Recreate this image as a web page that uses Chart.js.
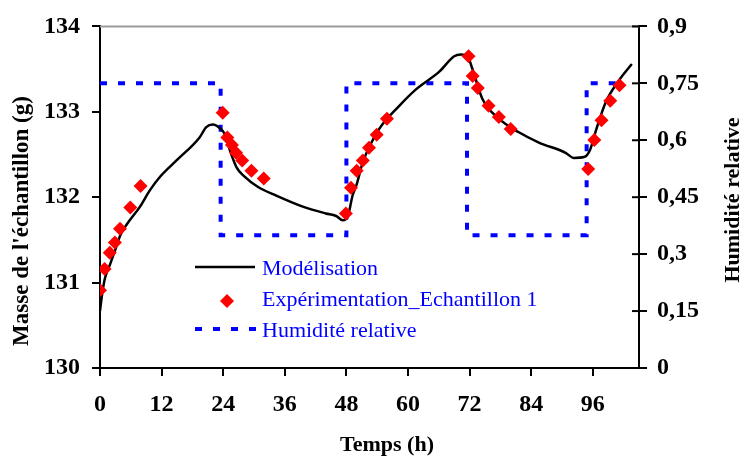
<!DOCTYPE html>
<html>
<head>
<meta charset="utf-8">
<script src="https://cdn.jsdelivr.net/npm/chart.js@4/dist/chart.umd.min.js"></script>
<style>
html,body{margin:0;padding:0;background:#fff;}
#wrap{width:745px;height:458px;position:relative;}
</style>
</head>
<body>
<div id="wrap"><canvas id="c" width="745" height="458"></canvas></div>
<script>
// ---- data ----
const modelHours = [0, 0.5, 1, 2, 3, 4, 5.2, 7.8, 9.7, 11.7, 14.9, 19.4, 20.7, 22, 23.3, 24.3, 25.3, 26.6, 28, 30.8, 34.3, 39.5, 44, 46, 47.3, 48.3, 49.2, 50, 51.2, 54.4, 58.3, 61.5, 66.1, 69, 70.3, 71.6, 72.5, 74.5, 77.7, 81.6, 85.5, 90.7, 92.3, 94.3, 95.5, 96.5, 98.5, 101, 103.6];
const modelMass = [130.67, 130.9, 131.06, 131.22, 131.39, 131.56, 131.68, 131.89, 132.08, 132.24, 132.43, 132.70, 132.82, 132.85, 132.81, 132.74, 132.55, 132.35, 132.25, 132.12, 132.02, 131.89, 131.81, 131.78, 131.73, 131.78, 132.02, 132.15, 132.41, 132.80, 133.07, 133.26, 133.47, 133.65, 133.67, 133.65, 133.51, 133.15, 132.92, 132.76, 132.64, 132.52, 132.46, 132.47, 132.56, 132.76, 133.11, 133.36, 133.56];

const expHours = [0, 0.9, 1.9, 2.9, 3.9, 5.9, 7.9, 23.9, 24.8, 25.7, 26.5, 27.7, 29.5, 31.9, 47.9, 48.9, 50.0, 51.2, 52.4, 53.9, 55.9, 71.8, 72.6, 73.6, 75.7, 77.7, 80.0, 95.1, 96.3, 97.7, 99.4, 101.2];
const expMass = [130.91, 131.16, 131.35, 131.47, 131.63, 131.88, 132.13, 132.99, 132.70, 132.61, 132.52, 132.43, 132.31, 132.22, 131.81, 132.11, 132.31, 132.43, 132.58, 132.73, 132.92, 133.65, 133.42, 133.28, 133.07, 132.94, 132.80, 132.33, 132.67, 132.90, 133.13, 133.31];

const rhHours = [0, 23.5, 23.5, 48, 48, 71.5, 71.5, 94.8, 94.8, 102];
const rhValues = [0.75, 0.75, 0.35, 0.35, 0.75, 0.75, 0.35, 0.35, 0.75, 0.75];

const xTickValues = [0, 12, 24, 36, 48, 60, 72, 84, 96];
const massTickValues = [130, 131, 132, 133, 134];
const rhTickValues = [0, 0.15, 0.3, 0.45, 0.6, 0.75, 0.9];

const seriesNames = ['Modélisation', 'Expérimentation_Echantillon 1', 'Humidité relative'];
const axisTitles = { x: 'Temps (h)', y: "Masse de l'échantillon (g)", y2: 'Humidité relative' };

// ---- build ----
const zip = (xs, ys) => xs.map((x, i) => ({ x: x, y: ys[i] }));
const SERIF = "'Liberation Serif', 'Times New Roman', serif";
const tickFont = { family: SERIF, size: 24, weight: 'bold' };

function keepTicks(values) {
  return function (scale) {
    scale.ticks = values.map(v => ({ value: v }));
  };
}

const decor = {
  id: 'decor',
  beforeDatasetsDraw(chart) {
    const ctx = chart.ctx, a = chart.chartArea;
    ctx.save();
    ctx.strokeStyle = '#9a9a9a';
    ctx.lineWidth = 2;
    ctx.beginPath();
    ctx.moveTo(a.left, a.top);
    ctx.lineTo(a.right, a.top);
    ctx.stroke();
    // inner part of the crossing ticks on the right axis
    const s = chart.scales.y2;
    ctx.strokeStyle = '#000';
    ctx.lineWidth = 2;
    s.ticks.forEach(t => {
      const py = s.getPixelForValue(t.value);
      ctx.beginPath();
      ctx.moveTo(a.right - 7, py);
      ctx.lineTo(a.right, py);
      ctx.stroke();
    });
    ctx.restore();
  },
  afterDraw(chart) {
    const ctx = chart.ctx;
    ctx.save();
    // axis titles
    ctx.fillStyle = '#000';
    ctx.textAlign = 'center';
    ctx.textBaseline = 'middle';
    ctx.font = 'bold 22px ' + SERIF;
    ctx.fillText(axisTitles.x, 387, 445);
    ctx.save();
    ctx.font = 'bold 23px ' + SERIF;
    ctx.translate(22, 221);
    ctx.rotate(-Math.PI / 2);
    ctx.fillText(axisTitles.y, 0, 0);
    ctx.restore();
    ctx.save();
    ctx.translate(733, 200);
    ctx.rotate(-Math.PI / 2);
    ctx.fillText(axisTitles.y2, 0, 0);
    ctx.restore();

    // legend
    ctx.textAlign = 'left';
    ctx.textBaseline = 'alphabetic';
    ctx.font = '22px ' + SERIF;
    ctx.fillStyle = '#0000FF';
    const tx = 262;
    ctx.fillText(seriesNames[0], tx, 275);
    ctx.fillText(seriesNames[1], tx, 306);
    ctx.fillText(seriesNames[2], tx, 337);
    // samples
    ctx.strokeStyle = '#000';
    ctx.lineWidth = 2.5;
    ctx.beginPath();
    ctx.moveTo(195, 267);
    ctx.lineTo(255, 267);
    ctx.stroke();
    ctx.fillStyle = '#FF0000';
    ctx.beginPath();
    ctx.moveTo(227, 294);
    ctx.lineTo(234, 301);
    ctx.lineTo(227, 308);
    ctx.lineTo(220, 301);
    ctx.closePath();
    ctx.fill();
    ctx.strokeStyle = '#0000FF';
    ctx.lineWidth = 4;
    ctx.setLineDash([7, 11]);
    ctx.beginPath();
    ctx.moveTo(195, 329);
    ctx.lineTo(258, 329);
    ctx.stroke();
    ctx.restore();
  }
};

new Chart(document.getElementById('c'), {
  type: 'line',
  data: {
    datasets: [
      {
        label: seriesNames[1],
        data: zip(expHours, expMass),
        showLine: false,
        pointStyle: 'rectRot',
        pointRadius: 7,
        pointBackgroundColor: '#FF0000',
        pointBorderColor: '#FF0000',
        pointBorderWidth: 0,
        yAxisID: 'y',
        order: 0
      },
      {
        label: seriesNames[0],
        data: zip(modelHours, modelMass),
        borderColor: '#000000',
        borderWidth: 2.5,
        pointRadius: 0,
        cubicInterpolationMode: 'monotone',
        fill: false,
        yAxisID: 'y',
        order: 1
      },
      {
        label: seriesNames[2],
        data: zip(rhHours, rhValues),
        borderColor: '#0000FF',
        borderWidth: 4,
        borderDash: [7, 11],
        borderCapStyle: 'butt',
        pointRadius: 0,
        tension: 0,
        fill: false,
        yAxisID: 'y2',
        order: 2
      }
    ]
  },
  options: {
    responsive: false,
    devicePixelRatio: 1,
    animation: false,
    layout: { padding: { top: 23, left: 0, right: 0, bottom: 0 } },
    plugins: { legend: { display: false }, tooltip: { enabled: false } },
    scales: {
      x: {
        type: 'linear',
        min: 0,
        max: 105,
        afterBuildTicks: keepTicks(xTickValues),
        afterFit(s) { s.height = 90; },
        grid: { drawOnChartArea: false, color: '#000', lineWidth: 2, tickLength: 8 },
        border: { color: '#000', width: 2 },
        ticks: { font: tickFont, color: '#000', padding: 14, maxRotation: 0 }
      },
      y: {
        type: 'linear',
        position: 'left',
        min: 130,
        max: 134,
        afterBuildTicks: keepTicks(massTickValues),
        afterFit(s) { s.width = 100; },
        grid: { drawOnChartArea: false, color: '#000', lineWidth: 2, tickLength: 8 },
        border: { color: '#000', width: 2 },
        ticks: { font: tickFont, color: '#000', padding: 12 }
      },
      y2: {
        type: 'linear',
        position: 'right',
        min: 0,
        max: 0.9,
        afterBuildTicks: keepTicks(rhTickValues),
        afterFit(s) { s.width = 106; },
        grid: { drawOnChartArea: false, color: '#000', lineWidth: 2, tickLength: 8 },
        border: { color: '#000', width: 2 },
        ticks: {
          font: tickFont, color: '#000', padding: 10,
          callback: v => String(Math.round(v * 100) / 100).replace('.', ',')
        }
      }
    }
  },
  plugins: [decor]
});
</script>
</body>
</html>
